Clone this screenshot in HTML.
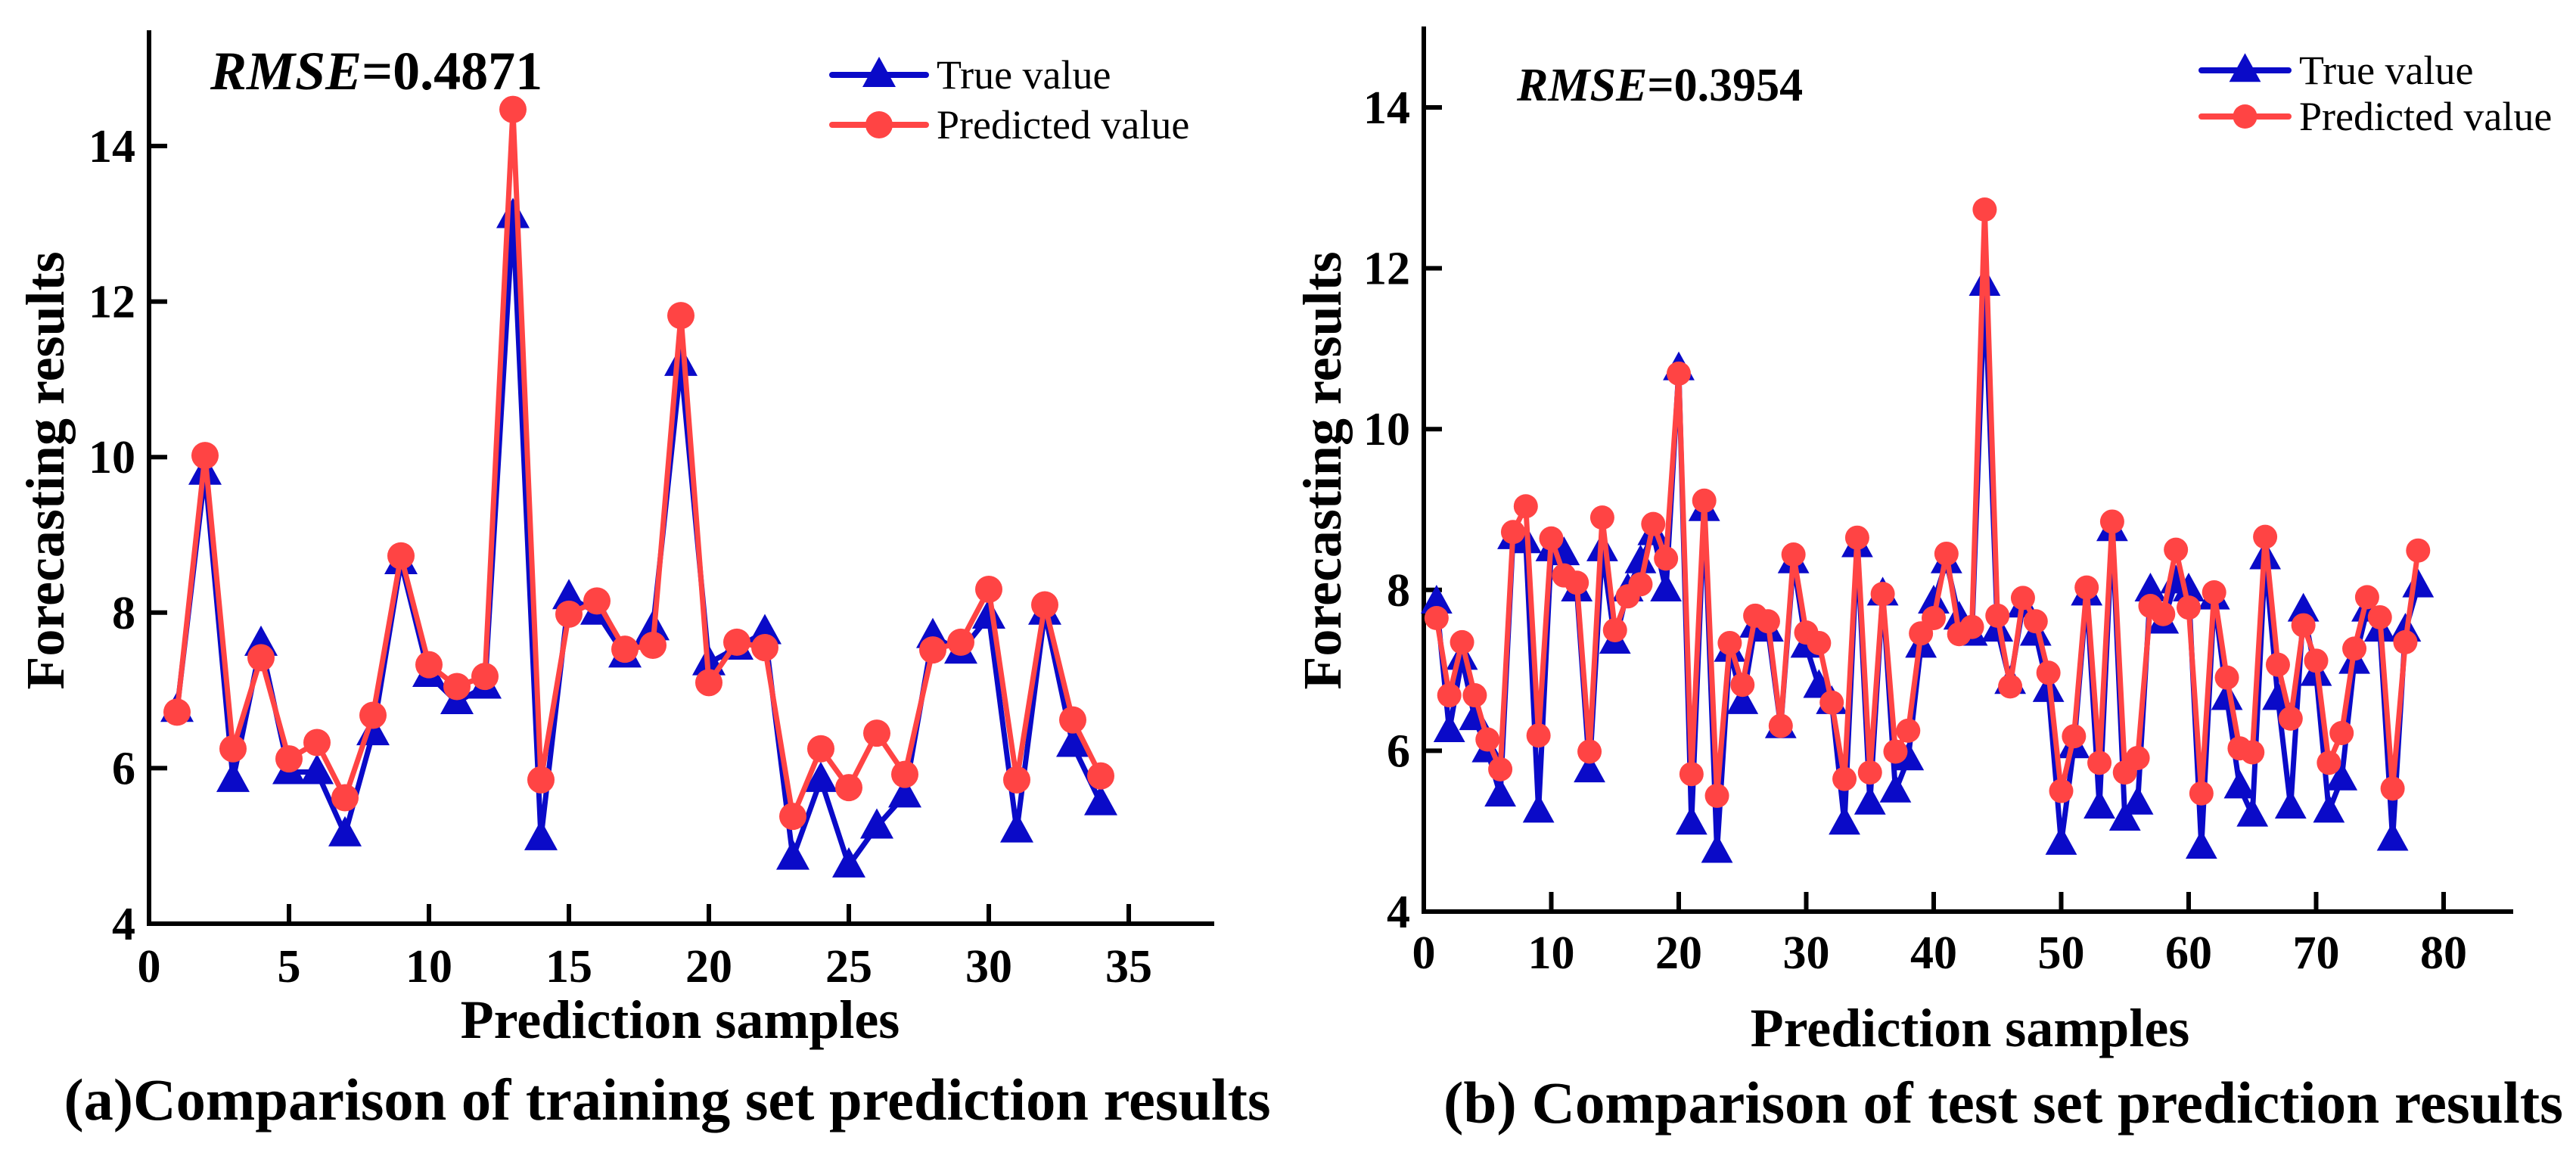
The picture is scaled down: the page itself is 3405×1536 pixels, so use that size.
<!DOCTYPE html>
<html><head><meta charset="utf-8"><style>
html,body{margin:0;padding:0;background:#fff}
svg{display:block}
text{font-family:"Liberation Serif","DejaVu Serif",serif;fill:#000}
</style></head><body>
<svg id="svg" width="3405" height="1536" viewBox="0 0 3405 1536" xmlns="http://www.w3.org/2000/svg">
<g id="left"></g>
<g id="right"></g>
</svg>
<script>
const trainTrue=[6.75,9.8,5.85,7.6,5.95,5.95,5.15,6.45,8.65,7.2,6.85,7.05,13.1,5.1,8.2,8.0,7.45,7.8,11.2,7.35,7.55,7.75,4.85,5.85,4.75,5.25,5.65,7.7,7.5,7.95,5.2,8.0,6.3,5.55];
const trainPred=[6.72,10.02,6.25,7.42,6.12,6.33,5.62,6.68,8.73,7.33,7.05,7.18,14.47,5.85,7.98,8.15,7.53,7.58,11.82,7.1,7.62,7.55,5.38,6.25,5.75,6.45,5.92,7.52,7.62,8.3,5.85,8.1,6.62,5.9];
const testTrue=[7.85,6.25,7.15,6.4,6.0,5.45,8.65,8.6,5.25,8.5,8.45,8.0,5.75,8.5,7.35,8.0,8.35,8.7,8.0,10.75,5.1,9.0,4.75,7.25,6.6,7.55,7.5,6.3,8.35,7.3,6.8,6.6,5.1,8.55,5.35,7.95,5.5,5.9,7.3,7.85,8.35,7.65,7.45,11.8,7.5,6.85,7.8,7.45,6.75,4.85,6.05,7.95,5.3,8.75,5.15,5.35,8.0,7.6,8.1,8.0,4.8,7.9,6.65,5.55,5.2,8.4,6.65,5.3,7.75,6.95,5.25,5.65,7.1,7.75,7.5,4.9,7.5,8.05];
const testPred=[7.65,6.69,7.35,6.69,6.14,5.77,8.72,9.04,6.19,8.64,8.18,8.09,5.99,8.9,7.5,7.92,8.07,8.82,8.39,10.69,5.71,9.11,5.44,7.34,6.82,7.68,7.61,6.31,8.44,7.47,7.34,6.6,5.65,8.65,5.73,7.95,5.99,6.25,7.46,7.65,8.45,7.45,7.54,12.73,7.68,6.8,7.9,7.61,6.97,5.5,6.18,8.03,5.85,8.85,5.73,5.91,7.8,7.7,8.5,7.78,5.47,7.97,6.91,6.03,5.98,8.66,7.07,6.4,7.56,7.12,5.85,6.22,7.27,7.91,7.66,5.53,7.35,8.49];
const yTicks=[4,6,8,10,12,14];
const xTicksTrain=[0,5,10,15,20,25,30,35];
const xTicksTest=[0,10,20,30,40,50,60,70,80];
const NS="http://www.w3.org/2000/svg";
const BLUE="#0a0ac8",RED="#ff4444";
function mk(p,tag,attrs,txt){const e=document.createElementNS(NS,tag);for(const k in attrs)e.setAttribute(k,attrs[k]);if(txt!==undefined)e.textContent=txt;p.appendChild(e);return e;}
function tri(g,x,y,s){return mk(g,'polygon',{points:`${x},${y-s*0.6} ${x-s*0.55},${y+s*0.4} ${x+s*0.55},${y+s*0.4}`,fill:BLUE});}
function chart(g,c){
  const X=v=>c.x0+(v-c.xmin)*c.xs, Y=v=>c.y4-(v-4)*c.ys;
  const ax=mk(g,'path',{d:`M${c.x0},${c.top} L${c.x0},${c.y4} L${c.xend},${c.y4}`,stroke:'#000','stroke-width':6,fill:'none'});
  
  
  yTicks.forEach(t=>{
    const l=mk(g,'line',{x1:c.x0,x2:c.x0+24,y1:Y(t),y2:Y(t),stroke:'#000','stroke-width':6});
    
    
    const tx=mk(g,'text',{x:c.x0-18,y:Y(t)+21,'text-anchor':'end','font-size':62,'font-weight':'bold'},String(t));
    
    
  });
  c.xticks.forEach(t=>{
    const l=mk(g,'line',{x1:X(t),x2:X(t),y1:c.y4,y2:c.y4-26,stroke:'#000','stroke-width':6});
    
    
    const tx=mk(g,'text',{x:X(t),y:c.xlabY,'text-anchor':'middle','font-size':62,'font-weight':'bold'},String(t));
    
    
  });
  const pt=(arr)=>arr.map((v,i)=>`${X(i+1)},${Y(v)}`).join(' ');
  const lt=mk(g,'polyline',{points:pt(c.tv),stroke:BLUE,'stroke-width':7,fill:'none','stroke-linejoin':'round'});
  
  
  c.tv.forEach((v,i)=>{const m=tri(g,X(i+1),Y(v),c.ts);
    
    });
  const lp=mk(g,'polyline',{points:pt(c.pv),stroke:RED,'stroke-width':7,fill:'none','stroke-linejoin':'round'});
  
  
  c.pv.forEach((v,i)=>{const m=mk(g,'circle',{cx:X(i+1),cy:Y(v),r:c.cr,fill:RED});
    
    });
  const r=mk(g,'text',{x:c.rx,y:c.ry,'font-size':c.rf,'font-weight':'bold'});
  
  
  mk(r,'tspan',{'font-style':'italic'},'RMSE');mk(r,'tspan',{},'='+c.rmse);
  const lg=mk(g,'g',{});
  
  
  mk(lg,'line',{x1:c.lx,x2:c.lx+c.lw,y1:c.ly1,y2:c.ly1,stroke:BLUE,'stroke-width':8,'stroke-linecap':'round'});
  tri(lg,c.lx+c.lw/2,c.ly1,c.ts);
  const t1=mk(lg,'text',{x:c.lx+c.lw+14,y:c.ly1+18,'font-size':54},'True value');
  
  
  mk(lg,'line',{x1:c.lx,x2:c.lx+c.lw,y1:c.ly2,y2:c.ly2,stroke:RED,'stroke-width':8,'stroke-linecap':'round'});
  mk(lg,'circle',{cx:c.lx+c.lw/2,cy:c.ly2,r:c.cr,fill:RED});
  const t2=mk(lg,'text',{x:c.lx+c.lw+14,y:c.ly2+18,'font-size':54},'Predicted value');
  
  
  const yt=mk(g,'text',{x:0,y:0,transform:`translate(${c.ytx},${c.yty}) rotate(-90)`,'text-anchor':'middle','font-size':72,'font-weight':'bold'},'Forecasting results');
  
  
  const xt=mk(g,'text',{x:c.xtx,y:c.xty,'text-anchor':'middle','font-size':72,'font-weight':'bold'},'Prediction samples');
  
  
  const cap=mk(g,'text',{x:c.capx,y:c.capy,'text-anchor':'middle','font-size':78,'font-weight':'bold',textLength:c.capw,lengthAdjust:'spacingAndGlyphs'},c.cap);
  
  
}
chart(document.getElementById('left'),{x0:197,xmin:0,xs:37.0,xend:1605,top:40,y4:1221,ys:102.8,xticks:xTicksTrain,xlabY:1298,
 tv:trainTrue,pv:trainPred,ts:40,cr:18,rx:278,ry:118,rf:72,rmse:'0.4871',lx:1100,lw:124,ly1:99,ly2:165,
 ytx:84,yty:622,xtx:899,xty:1372,capx:882,capy:1480,capw:1595,cap:'(a)Comparison of training set prediction results'});
chart(document.getElementById('right'),{x0:1882,xmin:0,xs:16.85,xend:3322,top:35,y4:1205,ys:106.3,xticks:xTicksTest,xlabY:1280,
 tv:testTrue,pv:testPred,ts:38,cr:16,rx:2005,ry:133,rf:62,rmse:'0.3954',lx:2910,lw:115,ly1:93,ly2:154,
 ytx:1772,yty:622,xtx:2604,xty:1383,capx:2648,capy:1484,capw:1480,cap:'(b) Comparison of test set prediction results'});
</script>
</body></html>
